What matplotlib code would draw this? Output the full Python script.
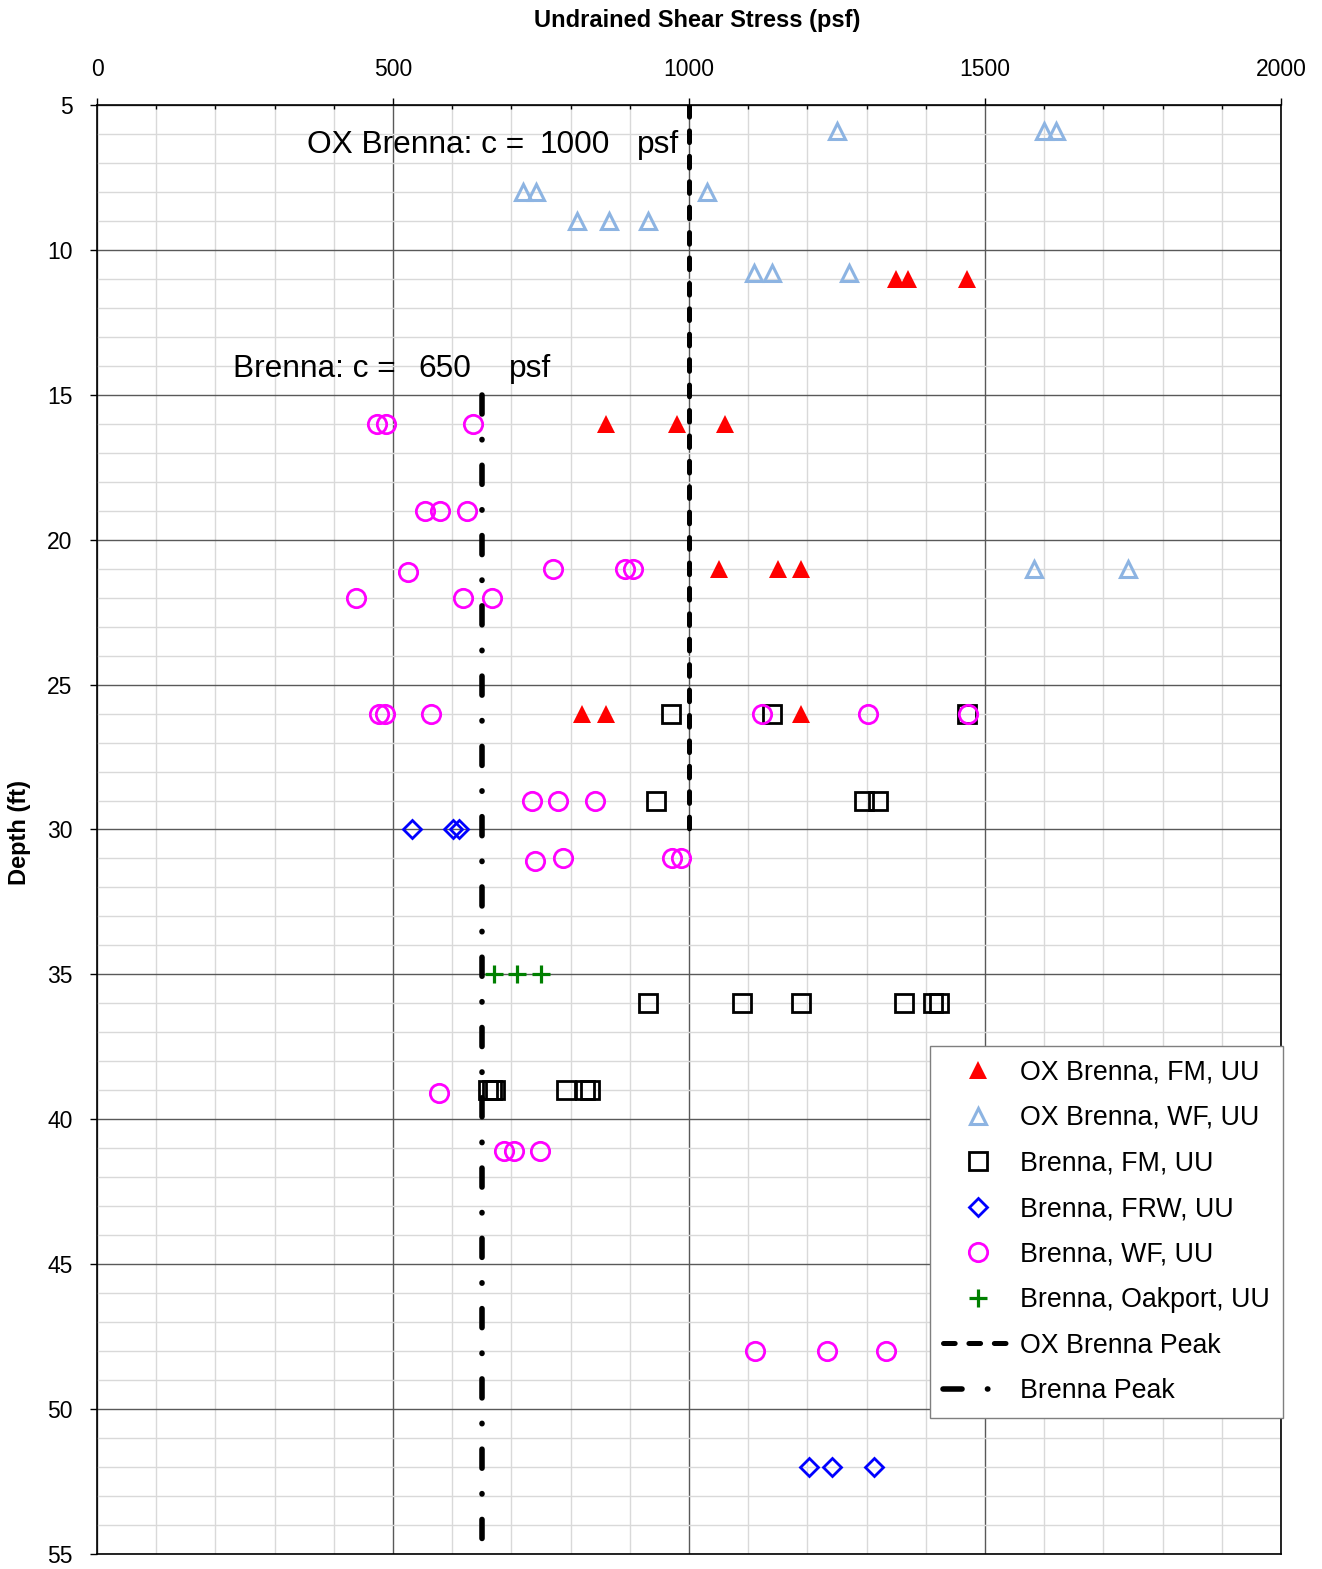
import matplotlib
matplotlib.use("Agg")
import matplotlib.pyplot as plt
from matplotlib.ticker import MultipleLocator

plt.rcParams['font.family'] = ['Liberation Sans', 'DejaVu Sans']
plt.rcParams['lines.scale_dashes'] = False

# ---------------- data ----------------
ox_fm_x = [1350, 1370, 1470, 860, 980, 1060, 1050, 1150, 1190, 820, 860, 1190]
ox_fm_y = [11, 11, 11, 16, 16, 16, 21, 21, 21, 26, 26, 26]

ox_wf_x = [1250, 1600, 1620, 720, 742, 1030, 810, 865, 930, 1110, 1140, 1270, 1582, 1742]
ox_wf_y = [5.9, 5.9, 5.9, 8, 8, 8, 9, 9, 9, 10.8, 10.8, 10.8, 21, 21]

br_fm_x = [970, 1140, 1470, 945, 1295, 1320,
           930, 1090, 1190, 1363, 1412, 1423,
           661, 668, 672, 792, 824, 832]
br_fm_y = [26, 26, 26, 29, 29, 29,
           36, 36, 36, 36, 36, 36,
           39, 39, 39, 39, 39, 39]

br_frw_x = [532, 602, 611, 1203, 1242, 1312]
br_frw_y = [30, 30, 30, 52, 52, 52]

br_wf_x = [473, 488, 635,
           554, 579, 625,
           525, 770, 892, 905,
           437, 618, 667,
           476, 486, 565, 1123, 1303, 1472,
           734, 778, 841,
           740, 787, 971, 986,
           577,
           687, 704, 748,
           1112, 1233, 1332]
br_wf_y = [16, 16, 16,
           19, 19, 19,
           21.1, 21, 21, 21,
           22, 22, 22,
           26, 26, 26, 26, 26, 26,
           29, 29, 29,
           31.1, 31, 31, 31,
           39.1,
           41.1, 41.1, 41.1,
           48, 48, 48]

oak_x = [670, 710, 750]
oak_y = [35, 35, 35]

ox_peak_c = 1000
ox_peak_depth = [5, 30]
br_peak_c = 650
br_peak_depth = [15, 55]

labels = ["OX Brenna, FM, UU", "OX Brenna, WF, UU", "Brenna, FM, UU",
          "Brenna, FRW, UU", "Brenna, WF, UU", "Brenna, Oakport, UU",
          "OX Brenna Peak", "Brenna Peak"]

# ---------------- figure ----------------
W, H = 1322, 1569
fig = plt.figure(figsize=(W / 100, H / 100), dpi=100)
ax = fig.add_axes([97 / W, 1 - 1554 / H, (1281 - 97) / W, (1554 - 105) / H])

ax.set_xlim(0, 2000)
ax.set_ylim(55, 5)

ax.xaxis.set_major_locator(MultipleLocator(500))
ax.xaxis.set_minor_locator(MultipleLocator(100))
ax.yaxis.set_major_locator(MultipleLocator(5))
ax.yaxis.set_minor_locator(MultipleLocator(1))
ax.xaxis.tick_top()

ax.set_axisbelow(True)
ax.grid(which='minor', color='#D9D9D9', lw=1.0)
ax.grid(which='major', color='#595959', lw=1.0)

ax.tick_params(axis='x', which='major', direction='out', length=5, width=1,
               pad=12, labelsize=16.5, top=True, bottom=False)
ax.tick_params(axis='x', which='minor', direction='in', length=3, width=1,
               top=True, bottom=False)
ax.tick_params(axis='y', which='major', direction='out', length=5, width=1,
               pad=12.5, labelsize=16.5, left=True, right=False)
ax.tick_params(axis='y', which='minor', length=0, left=False, right=False)
for s in ax.spines.values():
    s.set_color('black')
    s.set_linewidth(1.2)

h1, = ax.plot(ox_fm_x, ox_fm_y, ls='none', marker='^', ms=13, mew=0,
              color='#FF0000', label=labels[0])
h2, = ax.plot(ox_wf_x, ox_wf_y, ls='none', marker='^', ms=12, mew=2.2,
              mfc='none', mec='#8DB4E2', label=labels[1])
h3, = ax.plot(br_fm_x, br_fm_y, ls='none', marker='s', ms=13, mew=2,
              mfc='none', mec='black', label=labels[2])
h4, = ax.plot(br_frw_x, br_frw_y, ls='none', marker='D', ms=9.5, mew=2,
              mfc='none', mec='#0000FF', label=labels[3])
h5, = ax.plot(br_wf_x, br_wf_y, ls='none', marker='o', ms=13.2, mew=2,
              mfc='none', mec='#FF00FF', label=labels[4])
h6, = ax.plot(oak_x, oak_y, ls='none', marker='+', ms=12.5, mew=2.3,
              color='#008000', label=labels[5])
h7, = ax.plot([ox_peak_c, ox_peak_c], ox_peak_depth, color='black', lw=3.6,
              dashes=(8.4, 9.9), dash_capstyle='round', label=labels[6])
h8, = ax.plot([br_peak_c, br_peak_c], br_peak_depth, color='black', lw=4.0,
              dashes=(13.7, 18.3, 0.3, 18.3), dash_capstyle='round',
              label=labels[7])

# annotations
fs_ann = 22.8
ax.text(354.7, 6.667, "OX Brenna: c =", fontsize=fs_ann, va='baseline', ha='left')
ax.text(748.3, 6.667, "1000", fontsize=fs_ann, va='baseline', ha='left')
ax.text(912.2, 6.667, "psf", fontsize=fs_ann, va='baseline', ha='left')
ax.text(229.7, 14.375, "Brenna: c =", fontsize=fs_ann, va='baseline', ha='left')
ax.text(543.2, 14.375, "650", fontsize=fs_ann, va='baseline', ha='left')
ax.text(696.0, 14.375, "psf", fontsize=fs_ann, va='baseline', ha='left')

fig.text(697.5 / W, 1 - 20 / H, "Undrained Shear Stress (psf)", fontsize=17,
         fontweight='bold', ha='center', va='center')
fig.text(20 / W, 1 - 833 / H, "Depth (ft)", fontsize=17, fontweight='bold',
         rotation=90, ha='center', va='center')

leg = ax.legend(handles=[h1, h2, h3, h4, h5, h6, h7, h8],
                loc='upper right', bbox_to_anchor=(1283 / W, 1 - 1046 / H),
                bbox_transform=fig.transFigure, borderaxespad=0,
                fontsize=19.3, frameon=True, fancybox=False, framealpha=1,
                edgecolor='#7F7F7F', handlelength=2.6, handletextpad=0.27,
                borderpad=0.5, labelspacing=0.73, numpoints=1)
leg.get_frame().set_linewidth(1.0)

fig.savefig("out.png", dpi=100)
